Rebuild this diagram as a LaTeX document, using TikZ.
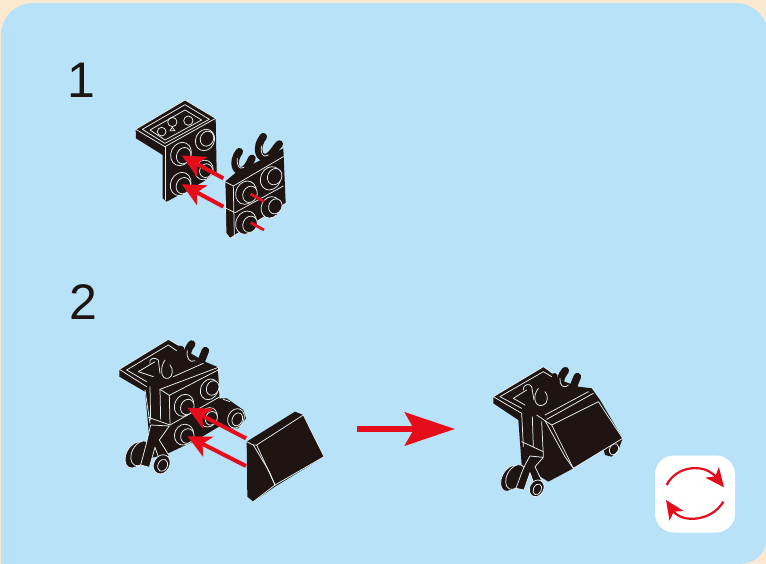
\documentclass[tikz,border=0pt]{standalone}
\usepackage{fontspec}
\setmainfont{Liberation Sans}
\usetikzlibrary{arrows.meta}
\definecolor{cream}{HTML}{FCE9D0}
\definecolor{sky}{HTML}{B8E2F8}
\definecolor{ink}{HTML}{1E1512}
\definecolor{redx}{HTML}{E60D1A}
\definecolor{edge}{HTML}{E8F1F4}
\tikzset{
 zoomed/.style={x=0.33333pt,y=-0.33333pt},
 wl/.style={draw=edge,line width=0.75pt,line join=round,line cap=round},
 claw/.style={draw=ink,line width=7.5pt,line cap=round,line join=round},
 redline/.style={draw=redx,line width=4pt},
 redarrow/.style={redline,-{Stealth[length=23pt,width=22pt,inset=6pt]},shorten >=-1pt},
 iconarrow/.style={draw=redx,line width=2.2pt,-{Stealth[length=19pt,width=17pt,inset=5pt]}},
 numeral/.style={font=\fontsize{50}{50}\selectfont,text=ink,inner sep=0pt},
}
\newcommand{\studpeg}[6]{%
 \fill[ink] (#1,#2) ellipse[x radius=#5,y radius=#6,rotate=-25];
 \draw[wl] (#1,#2) ellipse[x radius=#5,y radius=#6,rotate=-25];
 \draw[ink,line width=#5*0.6pt] (#1,#2) -- ++(#3,#4);
 \draw[wl,fill=ink] ({#1+#3},{#2+#4}) ellipse[x radius=#5*0.7,y radius=#6*0.7,rotate=-25];
}
\newcommand{\wheel}[4]{%
 \draw[wl,fill=ink] (#1,#2) ellipse[x radius=#3,y radius=#4,rotate=-28];
}
\begin{document}
\begin{tikzpicture}[x=1pt,y=-1pt]
\useasboundingbox (0,0) rectangle (766,564);
\fill[cream] (0,0) rectangle (766,564);
\fill[sky,rounded corners=32pt] (1,3) rectangle (768,566);
\fill[sky] (1,40) rectangle (740,564);
\fill[sky] (730,40) rectangle (766,543);
\fill[cream] (766,543) .. controls (766,556) and (752,564) .. (739,564) -- (766,564) -- cycle;

\node[numeral] (num1) at (81,80) {1};
\node[numeral] (num2) at (83,302) {2};

% ---------- Step 1 ----------
\begin{scope}[shift={(120,90)},zoomed]
 \fill[ink] (47,118) -- (195,30) -- (287,85) -- (290,245) -- (250,275) -- (215,295) -- (140,335) -- (128,325) -- (128,195) -- (48,145) -- cycle;
 \draw[wl] (47,118) -- (195,30) -- (287,85);
 \draw[wl] (47,118) -- (135,170) -- (287,85);
 \draw[wl] (67,118) -- (195,44) -- (268,88) -- (135,160) -- cycle;
 \draw[wl] (90,120) -- (195,60) -- (245,90) -- (135,150) -- cycle;
 \draw[wl] (135,170) -- (135,330);
 \draw[wl] (157,96) circle[radius=14];
 \draw[wl] (205,92) circle[radius=14];
 \draw[wl] (125,125) circle[radius=13];
 \draw[wl] (157,112) -- (150,122) -- (165,122) -- cycle;
 \studpeg{255}{150}{6}{-4}{28}{33}
 \studpeg{183}{192}{8}{5}{30}{36}
 \studpeg{252}{240}{6}{2}{27}{30}
 \studpeg{182}{282}{8}{5}{30}{36}
 \coordinate (r1a) at (310,265); \coordinate (r1b) at (188,198);
 \coordinate (r2a) at (310,350); \coordinate (r2b) at (188,284);
 \draw[redarrow] (r1a) -- (r1b);
 \draw[redarrow] (r2a) -- (r2b);
 % clips
 \draw[claw] (358,185) .. controls (335,215) and (345,252) .. (372,240) .. controls (385,232) and (390,215) .. (396,205);
 \draw[claw] (430,140) .. controls (405,170) and (415,215) .. (445,200) .. controls (460,190) and (466,174) .. (478,162);
 \fill[ink] (315,275) -- (345,250) -- (490,175) -- (497,340) -- (330,445) -- (318,430) -- cycle;
 \draw[wl] (352,205) .. controls (350,228) and (358,240) .. (372,232);
 \draw[wl] (425,168) .. controls (420,192) and (430,205) .. (445,195);
 \draw[wl] (315,275) -- (340,288) -- (490,200);
 \draw[wl] (340,288) -- (343,445);
 \draw[wl] (318,355) -- (345,368) -- (490,288);
 \draw[wl] (315,275) -- (318,430) -- (330,445) -- (497,340);
 \studpeg{378}{308}{12}{5}{30}{36}
 \studpeg{452}{265}{12}{-5}{30}{36}
 \studpeg{378}{398}{12}{5}{30}{36}
 \studpeg{452}{352}{14}{-3}{28}{33}
 \coordinate (p1a) at (392,312); \coordinate (p1b) at (432,335);
 \coordinate (p2a) at (392,398); \coordinate (p2b) at (432,420);
 \draw[redline,line width=2.8pt] (p1a) -- (p1b);
 \draw[redline,line width=2.8pt] (p2a) -- (p2b);
\end{scope}

% ---------- Step 2, left ----------
\begin{scope}[shift={(110,330)},zoomed]
 % rear side stud
 \fill[ink] (328,205) -- (350,205) -- (400,240) -- (408,265) -- (385,295) -- (360,295) -- (330,280) -- cycle;
 \draw[wl,fill=ink] (378,265) ellipse[x radius=24,y radius=30,rotate=-25];
 \draw[wl] (382,268) ellipse[x radius=15,y radius=20,rotate=-25];
 \draw[wl] (340,208) -- (360,215);
 % clips
 \draw[claw] (245,42) .. controls (222,70) and (228,110) .. (255,100);
 \draw[claw] (286,62) -- (272,98);
 \draw[claw] (212,58) -- (202,92);
 % body
 \fill[ink] (28,118) -- (175,28) -- (225,60) -- (285,95) -- (325,112) -- (330,205) -- (335,285) -- (260,330) -- (170,372) -- (120,385) -- (115,290) -- (105,185) -- (28,140) -- cycle;
 \draw[wl] (28,118) -- (175,28) -- (205,45);
 \draw[wl] (28,118) -- (110,170);
 \draw[wl] (50,120) -- (175,45) -- (200,62);
 \draw[wl] (50,120) -- (110,155);
 \draw[wl] (85,125) -- (135,95);
 \draw[wl] (85,125) -- (130,140);
 \draw[wl] (120,100) .. controls (115,85) and (135,80) .. (145,90) -- (150,130);
 \draw[wl] (165,90) .. controls (150,110) and (150,150) .. (175,145) .. controls (190,140) and (190,115) .. (180,105);
 \draw[wl] (232,62) .. controls (228,85) and (240,100) .. (255,92);
 \draw[wl] (190,140) -- (280,100);
 \draw[wl] (150,178) -- (325,112);
 \draw[wl] (178,196) -- (328,118);
 \draw[wl] (150,178) -- (178,196);
 \draw[wl] (105,180) -- (120,280);
 \draw[wl] (120,170) -- (122,270);
 \draw[wl] (150,178) -- (152,268);
 \draw[wl] (178,196) -- (180,285);
 \draw[wl] (115,262) -- (180,285) -- (330,200);
 \draw[wl] (325,112) -- (330,205);
 \studpeg{222}{226}{10}{5}{28}{34}
 \studpeg{298}{178}{10}{-4}{26}{32}
 \studpeg{222}{314}{10}{4}{28}{32}
 \studpeg{296}{262}{8}{3}{25}{30}
 % wheels and lever
 \wheel{76}{375}{27}{42}
 \wheel{92}{370}{26}{40}
 \draw[wl,fill=ink] (122,285) -- (178,288) -- (148,330) -- (178,378) -- (150,395) -- (135,352) -- (118,412) -- (92,405) -- (108,345) -- cycle;
 \wheel{155}{403}{24}{30}
 \draw[wl] (158,406) ellipse[x radius=14,y radius=19,rotate=-25];
 \coordinate (r3a) at (408,325); \coordinate (r3b) at (235,235);
 \coordinate (r4a) at (408,408); \coordinate (r4b) at (235,320);
 \draw[redarrow] (r3a) -- (r3b);
 \draw[redarrow] (r4a) -- (r4b);
 % wedge
 \fill[ink] (410,335) -- (555,245) -- (580,255) -- (642,380) -- (495,470) -- (430,515) -- (412,500) -- cycle;
 \draw[wl] (410,335) -- (430,345) -- (440,345) -- (580,255) -- (642,380) -- (495,465) -- (440,345);
 \draw[wl] (430,345) -- (478,425) -- (495,465);
 \draw[wl] (495,465) -- (430,515);
\end{scope}

% big arrow
\coordinate (bigA) at (357,429); \coordinate (bigB) at (454,429);
\draw[draw=redx,line width=6.5pt,-{Stealth[length=50pt,width=33pt,inset=9pt]},shorten >=-1pt] (bigA) -- (bigB);

% ---------- Step 2, right ----------
\begin{scope}[shift={(480,350)},zoomed]
 \fill[ink] (428,265) -- (415,300) -- (395,320) -- (375,315) -- (370,295) -- cycle;
 \draw[wl] (402,298) ellipse[x radius=13,y radius=18,rotate=-25];
 % clips
 \draw[claw] (256,62) .. controls (232,90) and (238,125) .. (265,112);
 \draw[claw] (292,80) -- (280,110);
 \draw[claw] (222,80) -- (212,110);
 \fill[ink] (40,140) -- (190,50) -- (240,90) -- (295,110) -- (335,115) -- (360,150) -- (428,265) -- (280,355) -- (205,395) -- (125,345) -- (115,210) -- (40,160) -- cycle;
 \draw[wl] (40,140) -- (190,50) -- (220,70);
 \draw[wl] (40,140) -- (125,190);
 \draw[wl] (60,140) -- (190,65) -- (215,80);
 \draw[wl] (60,140) -- (125,175);
 \draw[wl] (100,145) -- (140,120);
 \draw[wl] (100,145) -- (135,165);
 \draw[wl] (130,120) .. controls (130,100) and (150,100) .. (155,110) -- (162,150);
 \draw[wl] (175,115) .. controls (155,140) and (165,175) .. (190,165) .. controls (205,160) and (205,135) .. (195,125);
 \draw[wl] (240,85) .. controls (238,105) and (250,118) .. (265,105);
 \draw[wl] (195,195) -- (325,125);
 \draw[wl] (200,208) -- (340,130);
 \draw[wl] (170,195) -- (195,212) -- (215,225);
 \draw[wl] (215,225) -- (355,155) -- (428,265) -- (280,355) -- (215,225);
 \draw[wl] (195,212) -- (255,320) -- (280,355);
 \draw[wl] (125,190) -- (130,290);
 \draw[wl] (157,200) -- (160,290);
 \draw[wl] (185,215) -- (190,320);
 \draw[wl] (125,275) -- (190,305);
 % wheels and lever
 \wheel{92}{385}{26}{42}
 \wheel{106}{381}{25}{40}
 \draw[wl,fill=ink] (135,345) -- (150,318) -- (190,322) -- (165,350) -- (188,398) -- (165,410) -- (150,368) -- (132,420) -- (108,415) -- (125,368) -- cycle;
 \wheel{170}{415}{21}{26}
 \draw[wl] (172,418) ellipse[x radius=12,y radius=17,rotate=-25];
\end{scope}

% ---------- Rotate icon ----------
\node[fill=white,rounded corners=19pt,minimum width=80pt,minimum height=77pt,inner sep=0pt] (icon) at (695,494) {};
\begin{scope}[shift={(640,440)},zoomed]
 \coordinate (i1a) at (80,135); \coordinate (i1b) at (252,142);
 \coordinate (i2a) at (250,185); \coordinate (i2b) at (78,180);
 \draw[iconarrow] (i1a) .. controls (110,75) and (195,70) .. (i1b);
 \draw[iconarrow] (i2a) .. controls (215,245) and (125,250) .. (i2b);
\end{scope}
\end{tikzpicture}
\end{document}
